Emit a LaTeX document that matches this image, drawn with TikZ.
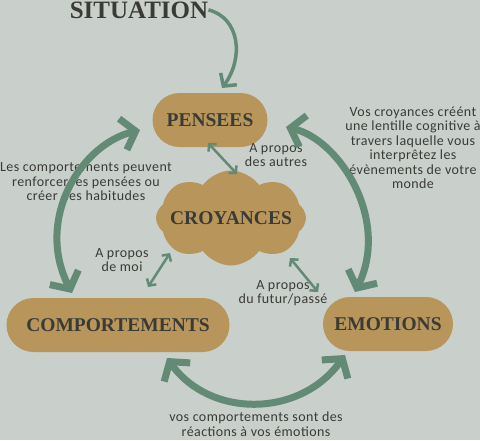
\documentclass[tikz,border=0pt]{standalone}
\usepackage{fontspec}
\setmainfont{Liberation Serif}
\newfontfamily\handfont[LetterSpace=3]{Carlito}
\usepackage{tikz}
\usetikzlibrary{arrows.meta}
\usetikzlibrary{shapes.symbols}

\definecolor{bgGrey}{HTML}{C9CFCB}
\definecolor{boxGold}{HTML}{B8955A}
\definecolor{arrowGreen}{HTML}{628A74}
\definecolor{inkGrey}{HTML}{3B3B36}

\begin{document}
\begin{tikzpicture}[x=1pt,y=-1pt]
\tikzset{
  pillNode/.style={
    rectangle,
                   rounded corners=27pt,
                   fill=boxGold,
                   text=inkGrey,
                   minimum height=54pt,
                   inner sep=0pt,
                   font=\fontsize{19.5}{22}\selectfont\bfseries
    },
  cloudNode/.style={
    cloud,
                   cloud puffs=8,
                   cloud puff arc=110,
                   cloud ignores aspect,
                   fill=boxGold,
                   text=inkGrey,
                   minimum width=150pt,
                   minimum height=95pt,
                   inner sep=0pt,
                   label={[text=inkGrey, font=\fontsize{19.5}{22}\selectfont\bfseries]center:#1}
    },
  noteNode/.style={
    align=center,
                   text=inkGrey,
                   inner sep=0pt,
                   font=\handfont\fontsize{14}{14.5}\selectfont
    }
}
    \useasboundingbox (0,0) rectangle (480,440);
    \fill[bgGrey] (0,0) rectangle (480,440);

    \node (situation)[anchor=base, text=inkGrey, inner sep=0pt, font=\fontsize{25}{28}\selectfont\bfseries] at (139,18) {SITUATION};
    \node (pensees)[pillNode, minimum width=115pt] at (210,120) {PENSEES};
    \node (croyances)[cloudNode=CROYANCES] at (231,218) {};
    \node (comportements)[pillNode, minimum width=223pt] at (118,325) {COMPORTEMENTS};
    \node (emotions)[pillNode, minimum width=130pt] at (388,324) {EMOTIONS};

    \node (noteAutres)[noteNode] at (276,155) {A propos\\des autres};
    \node (noteLentille)[noteNode] at (413,148) {Vos croyances créént\\une lentille cognitive à\\travers laquelle vous\\interprêtez les\\évènements de votre\\monde};
    \node (noteRenforcer)[noteNode] at (86,182) {Les comportements peuvent\\renforcer les pensées ou\\créer des habitudes};
    \node (noteMoi)[noteNode] at (122,260) {A propos\\de moi};
    \node (noteFutur)[noteNode] at (283,293) {A propos\\du futur/passé};
    \node (noteReactions)[noteNode] at (256,424) {vos comportements sont des\\réactions à vos émotions};

    \coordinate (sitTip) at (222,88);
    \coordinate (penseesL) at (140,130);
    \coordinate (comportementsT) at (72,293);
    \coordinate (penseesR) at (286,127);
    \coordinate (emotionsT) at (355,292);
    \coordinate (comportementsB) at (167,358);
    \coordinate (emotionsB) at (345,355);
    \coordinate (penseesB) at (208,143);
    \coordinate (croyancesT) at (237,174);
    \coordinate (croyancesL) at (170,253);
    \coordinate (comportementsR) at (148,287);
    \coordinate (croyancesR) at (290,258);
    \coordinate (emotionsL) at (318,292);

    \draw[->, line width=3.5pt, arrowGreen, >={Straight Barb[length=9pt, width=20pt]}] (situation.east) .. controls (240,18) and (244,58) .. (sitTip);
    \draw[<->, line width=7pt, arrowGreen, >={Straight Barb[length=13pt, width=32pt]}] (penseesL) .. controls (80,145) and (35,220) .. (comportementsT);
    \draw[<->, line width=7pt, arrowGreen, >={Straight Barb[length=13pt, width=32pt]}] (penseesR) .. controls (340,140) and (390,220) .. (emotionsT);
    \draw[<->, line width=7pt, arrowGreen, >={Straight Barb[length=13pt, width=32pt]}] (comportementsB) .. controls (210,418) and (300,418) .. (emotionsB);
    \draw[<->, line width=2.5pt, arrowGreen, >={Straight Barb[length=5pt, width=11pt]}] (penseesB) -- (croyancesT);
    \draw[<->, line width=2.5pt, arrowGreen, >={Straight Barb[length=5pt, width=11pt]}] (croyancesL) -- (comportementsR);
    \draw[<->, line width=2.5pt, arrowGreen, >={Straight Barb[length=5pt, width=11pt]}] (croyancesR) -- (emotionsL);

\end{tikzpicture}
\end{document}
